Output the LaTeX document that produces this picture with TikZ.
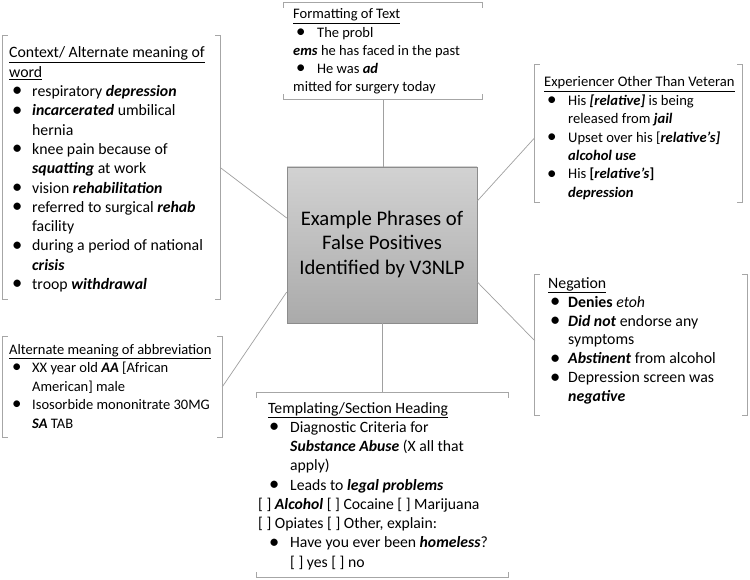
\documentclass[tikz,border=0pt]{standalone}
\usepackage{fontspec}
\setmainfont{Carlito}
\usetikzlibrary{fit,calc,shadows}
\definecolor{brk}{RGB}{166,166,166}
\definecolor{lnk}{RGB}{160,160,160}
\definecolor{ctrtop}{RGB}{210,210,210}
\definecolor{ctrbot}{RGB}{170,170,170}
\definecolor{ctredge}{RGB}{140,140,140}
\newcommand\bi[1]{\textbf{\textit{#1}}}
\newlength\bulind \newlength\bulw \newlength\txtind
\newcommand\ind[2]{\setlength\bulind{#1}\setlength\txtind{#2}\setlength\bulw{\txtind}\addtolength\bulw{-\bulind}}
\newcommand\Bu{\hspace*{\bulind}\makebox[\bulw][l]{\raisebox{-0.3pt}{\scalebox{1.3}{\textbullet}}}}
\newcommand\Co{\hspace*{\txtind}}
\newcommand\boxtext[3]{\parbox[t]{280pt}{\fontsize{#1}{#2}\selectfont\raggedright #3}}
\newcommand\vbrk[1]{%
  \draw[brkline] ([xshift=5pt]#1.north west) -- (#1.north west) -- (#1.south west) -- ([xshift=5pt]#1.south west);
  \draw[brkline] ([xshift=-5pt]#1.north east) -- (#1.north east) -- (#1.south east) -- ([xshift=-5pt]#1.south east);}
\newcommand\hbrk[1]{%
  \draw[brkline] ([yshift=-5pt]#1.north west) -- (#1.north west) -- (#1.north east) -- ([yshift=-5pt]#1.north east);
  \draw[brkline] ([yshift=5pt]#1.south west) -- (#1.south west) -- (#1.south east) -- ([yshift=5pt]#1.south east);}
\begin{document}
\begin{tikzpicture}[x=1pt,y=-1pt,
  frame/.style={inner sep=0pt, draw=none},
  brkline/.style={draw=brk, line width=0.8pt},
  link/.style={draw=lnk, line width=0.7pt},
  txt/.style={anchor=base west, inner sep=0pt},
  ctrbox/.style={draw=ctredge, line width=0.6pt, top color=ctrtop, bottom color=ctrbot,
    minimum width=190pt, minimum height=156pt, align=center,
    font=\fontsize{20.7}{24.5}\selectfont,
    drop shadow={shadow xshift=1.2pt, shadow yshift=-1.2pt, opacity=0.3}}]
\fill[white] (0,0) rectangle (750,580);
\useasboundingbox (0,0) rectangle (750,580);

% frames
\node[frame, fit={(3,36)(220,299)}] (ctx) {};
\node[frame, fit={(284,3)(482,99)}] (fmt) {};
\node[frame, fit={(535,65)(742,202)}] (exp) {};
\node[frame, fit={(535,275)(747,415)}] (neg) {};
\node[frame, fit={(3,337)(222,437)}] (abbr) {};
\node[frame, fit={(257,393)(508,577)}] (tmpl) {};

% centre
\node[ctrbox] (ctr) at (382,245) {\raisebox{-2pt}{\begin{tabular}{@{}c@{}}Example Phrases of\\False Positives\\Identified by V3NLP\end{tabular}}};

% connectors
\coordinate (cL1) at ($(ctr.west)+(0,-27)$);
\coordinate (cL2) at ($(ctr.west)+(0,47)$);
\coordinate (cR1) at ($(ctr.east)+(0,-44)$);
\coordinate (cR2) at ($(ctr.east)+(0,37)$);
\coordinate (ctxE) at ($(ctx.north east)!0.50!(ctx.south east)$);
\coordinate (expW) at ($(exp.north west)!0.53!(exp.south west)$);
\coordinate (negW) at ($(neg.north west)!0.47!(neg.south west)$);
\draw[link] (fmt.south) -- (fmt.south |- ctr.north);
\draw[link] (ctr.south) -- (ctr.south |- tmpl.north);
\draw[link] (ctxE) -- (cL1);
\draw[link] (abbr.east) -- (cL2);
\draw[link] (expW) -- (cR1);
\draw[link] (negW) -- (cR2);

% brackets
\vbrk{ctx}
\vbrk{exp}
\vbrk{neg}
\vbrk{abbr}
\hbrk{fmt}
\hbrk{tmpl}

% texts
\node[txt] (ctxt) at (9,58) {\boxtext{15.8}{19.3}{\ind{3pt}{23pt}%
\underline{Context/ Alternate meaning of}\\
\underline{word}\\
\Bu respiratory \bi{depression}\\
\Bu \bi{incarcerated} umbilical\\
\Co hernia\\
\Bu knee pain because of\\
\Co \bi{squatting} at work\\
\Bu vision \bi{rehabilitation}\\
\Bu referred to surgical \bi{rehab}\\
\Co facility\\
\Bu during a period of national\\
\Co \bi{crisis}\\
\Bu troop \bi{withdrawal}}};

\node[txt] (fmtt) at (293,19) {\boxtext{14.5}{18.2}{\ind{3pt}{24pt}%
\underline{Formatting of Text}\\
\Bu The probl\\
\bi{ems} he has faced in the past\\
\Bu He was \bi{ad}\\
mitted for surgery today}};

\node[txt] (expt) at (544,87) {\boxtext{14.6}{18.4}{\ind{3pt}{24pt}%
\underline{Experiencer Other Than Veteran}\\
\Bu His \bi{[relative]} is being\\
\Co released from \bi{jail}\\
\Bu Upset over his [\bi{relative’s]}\\
\Co \bi{alcohol use}\\
\Bu His \textbf{[}\bi{relative’s}\textbf{]}\\
\Co \bi{depression}}};

\node[txt] (negt) at (548,288) {\boxtext{15.8}{19}{\ind{2pt}{20pt}%
\underline{Negation}\\
\Bu \textbf{Denies} \textit{etoh}\\
\Bu \bi{Did not} endorse any\\
\Co symptoms\\
\Bu \bi{Abstinent} from alcohol\\
\Bu Depression screen was\\
\Co \bi{negative}}};

\node[txt] (abbrt) at (9,354) {\boxtext{14.5}{18.5}{\ind{3pt}{23pt}%
\underline{Alternate meaning of abbreviation}\\
\Bu XX year old \bi{AA} [African\\
\Co American] male\\
\Bu Isosorbide mononitrate 30MG\\
\Co \bi{SA} TAB}};

\node[txt] (tmplt) at (268,413) {\boxtext{15.7}{19.25}{\ind{1pt}{22pt}%
\underline{Templating/Section Heading}\\
\Bu Diagnostic Criteria for\\
\Co \bi{Substance Abuse} (X all that\\
\Co apply)\\
\Bu Leads to \bi{legal problems}\\
\hspace*{-10pt}[ ] \bi{Alcohol} [ ] Cocaine [ ] Marijuana\\
\hspace*{-10pt}[ ] Opiates [ ] Other, explain:\\
\Bu Have you ever been \bi{homeless}?\\
\Co [ ] yes [ ] no}};
\end{tikzpicture}
\end{document}
